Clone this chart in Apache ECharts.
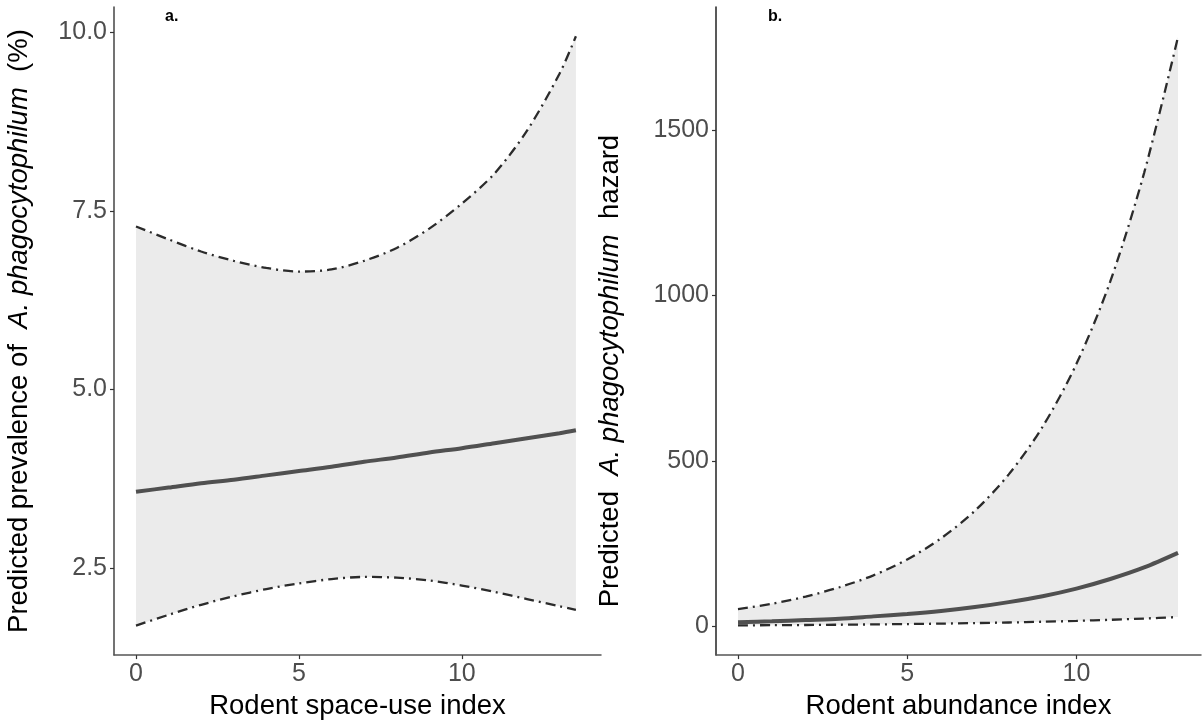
<!DOCTYPE html>
<html>
<head>
<meta charset="utf-8">
<script src="https://cdn.jsdelivr.net/npm/echarts@6/dist/echarts.min.js"></script>
<style>
  html, body { margin: 0; padding: 0; background: #fff; }
  #chart { width: 1203px; height: 725px; }
</style>
</head>
<body>
<div id="chart"></div>
<script>
// panel a: prevalence (%) vs rodent space-use index
const xA = [0, 1, 2, 3, 4, 5, 6, 7, 8, 9, 10, 11, 12, 13, 13.5];
const meanA = [3.57, 3.63, 3.69, 3.74, 3.80, 3.86, 3.92, 3.99, 4.05, 4.12, 4.18, 4.25, 4.32, 4.39, 4.43];
const lowerA = [1.70, 1.85, 1.99, 2.11, 2.21, 2.29, 2.35, 2.38, 2.37, 2.33, 2.26, 2.17, 2.07, 1.97, 1.92];
const upperA = [7.28, 7.10, 6.93, 6.80, 6.70, 6.65, 6.68, 6.80, 6.98, 7.25, 7.60, 8.02, 8.62, 9.42, 9.94];

// panel b: hazard vs rodent abundance index
const xB = [0, 1, 2, 3, 4, 5, 6, 7, 8, 9, 10, 11, 12, 13];
const meanB = [12, 15, 19, 23, 30, 37, 46, 58, 73, 91, 114, 143, 178, 222];
const lowerB = [2.8, 3.3, 4.0, 4.7, 5.7, 6.8, 8.1, 9.7, 11.5, 13.8, 16.4, 19.6, 23.4, 28];
const upperB = [52, 68, 90, 118, 154, 202, 266, 349, 459, 603, 793, 1042, 1370, 1780];

const xTicks = [0, 5, 10];
const yTicksA = [2.5, 5, 7.5, 10];
const yTicksB = [0, 500, 1000, 1500];

const font = 'Liberation Sans, Arial, sans-serif';
const pairs = (xs, ys) => xs.map((x, i) => [x, ys[i]]);

function axisCommon(ticks, lineColor) {
  return {
    type: 'value',
    splitLine: { show: false },
    axisLine: { show: true, onZero: false, lineStyle: { color: lineColor, width: 1.5 } },
    axisTick: { show: true, length: 4, lineStyle: { color: '#333', width: 1.2 }, customValues: ticks },
    axisLabel: { color: '#4d4d4d', fontSize: 25, fontFamily: font, margin: 7, customValues: ticks }
  };
}

function titleStyle() {
  return {
    color: '#000', fontSize: 27.5, fontFamily: font,
    rich: {
      n: { fontSize: 27.5, fontFamily: font, color: '#000' },
      i: { fontSize: 27.5, fontFamily: font, color: '#000', fontStyle: 'italic' },
      s: { width: 80 }
    }
  };
}

function panelSeries(idx, xs, mean, lower, upper) {
  const dashDot = { color: '#2b2b2b', width: 2.3, type: [10, 5, 2, 5] };
  // ribbon: stack on the value (y) dimension, so y goes first and x is mapped by encode
  return [
    { type: 'line', xAxisIndex: idx, yAxisIndex: idx, stack: 'band' + idx,
      data: lower.map((v, i) => [v, xs[i]]), encode: { x: 1, y: 0 }, smooth: 0.3,
      symbol: 'none', lineStyle: { opacity: 0 }, silent: true },
    { type: 'line', xAxisIndex: idx, yAxisIndex: idx, stack: 'band' + idx,
      data: upper.map((u, i) => [u - lower[i], xs[i]]), encode: { x: 1, y: 0 }, smooth: 0.3,
      symbol: 'none', lineStyle: { opacity: 0 }, areaStyle: { color: '#ebebeb', opacity: 1 }, silent: true },
    { type: 'line', xAxisIndex: idx, yAxisIndex: idx, data: pairs(xs, upper), smooth: 0.3,
      symbol: 'none', lineStyle: dashDot },
    { type: 'line', xAxisIndex: idx, yAxisIndex: idx, data: pairs(xs, lower), smooth: 0.3,
      symbol: 'none', lineStyle: dashDot },
    { type: 'line', xAxisIndex: idx, yAxisIndex: idx, data: pairs(xs, mean), smooth: 0.3,
      symbol: 'none', lineStyle: { color: '#505050', width: 4 } }
  ];
}

const chart = echarts.init(document.getElementById('chart'));

const option = {
  backgroundColor: '#ffffff',
  animation: false,
  grid: [
    { left: 114, top: 7, width: 487, height: 650 },
    { left: 716, top: 7, width: 485, height: 650 }
  ],
  xAxis: [
    Object.assign(axisCommon(xTicks, '#555'), {
      gridIndex: 0, min: -0.675, max: 14.27,
      name: 'Rodent space-use index', nameLocation: 'middle', nameGap: 34,
      nameTextStyle: { color: '#000', fontSize: 27.5, fontFamily: font }
    }),
    Object.assign(axisCommon(xTicks, '#555'), {
      gridIndex: 1, min: -0.65, max: 13.68,
      name: 'Rodent abundance index', nameLocation: 'middle', nameGap: 34,
      nameTextStyle: { color: '#000', fontSize: 27.5, fontFamily: font }
    })
  ],
  yAxis: [
    Object.assign(axisCommon(yTicksA, '#444'), {
      gridIndex: 0, min: 1.287, max: 10.349,
      name: '{n|Predicted prevalence of  }{i|A. phagocytophilum}{n|  (%)}',
      nameLocation: 'middle', nameGap: 81, nameRotate: 90,
      nameTextStyle: titleStyle()
    }),
    Object.assign(axisCommon(yTicksB, '#222'), {
      gridIndex: 1, min: -87, max: 1871,
      name: '{n|Predicted  }{i|A. phagocytophilum}{n|  hazard}{s|}',
      nameLocation: 'middle', nameGap: 92, nameRotate: 90,
      nameTextStyle: titleStyle()
    })
  ],
  series: [].concat(
    panelSeries(0, xA, meanA, lowerA, upperA),
    panelSeries(1, xB, meanB, lowerB, upperB)
  ),
  graphic: [
    { type: 'text', left: 165, top: 9, style: { text: 'a.', font: 'bold 16px ' + font, fill: '#000' } },
    { type: 'text', left: 768, top: 9, style: { text: 'b.', font: 'bold 16px ' + font, fill: '#000' } }
  ]
};

// y labels: one decimal on panel a, plain integers on panel b
option.yAxis[0].axisLabel.formatter = v => v.toFixed(1);
option.yAxis[1].axisLabel.formatter = v => String(v);

chart.setOption(option);
</script>
</body>
</html>
